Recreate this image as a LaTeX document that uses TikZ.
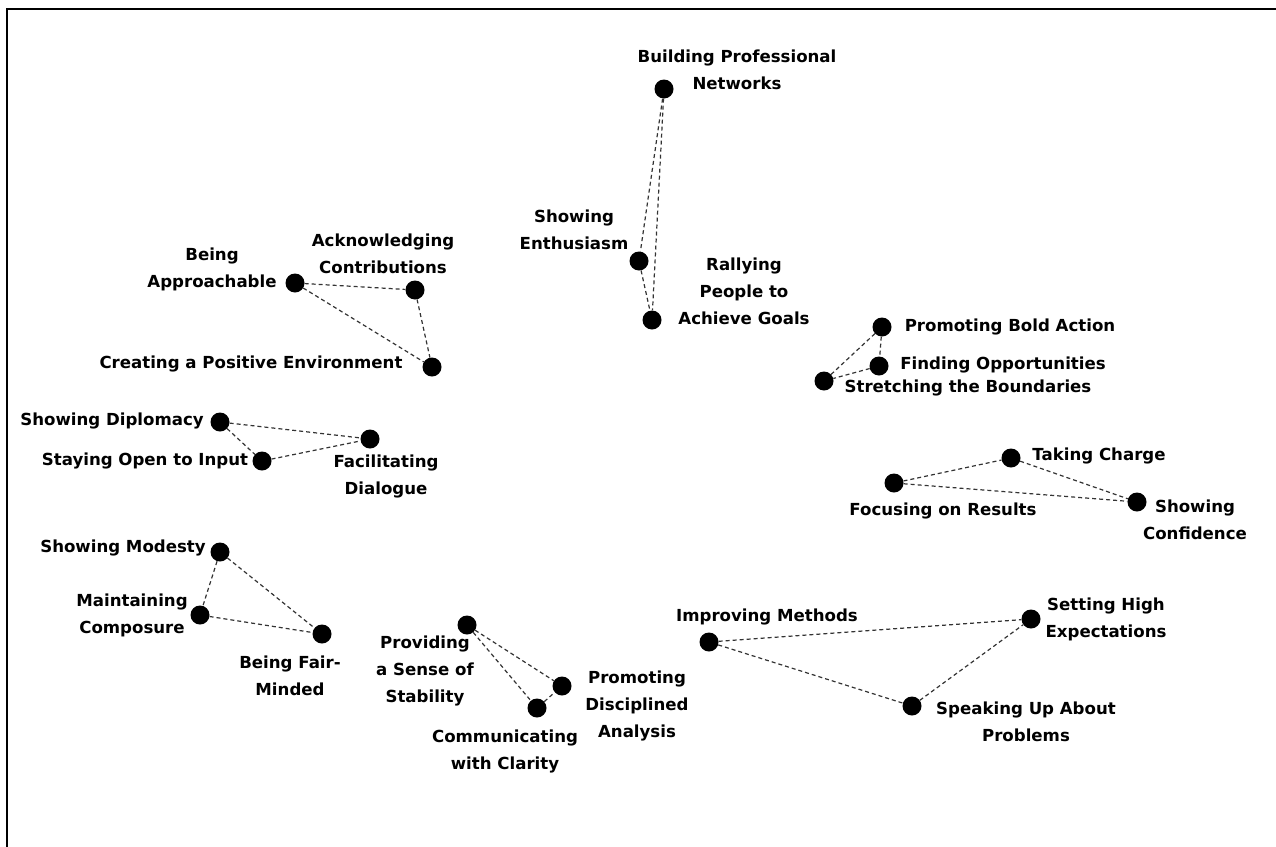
\documentclass[tikz,border=0pt]{standalone}
\usepackage{fontspec}
\setmainfont{DejaVu Sans}
\begin{document}
\begin{tikzpicture}[x=1pt,y=-1pt,
  dot/.style={circle,fill=black,inner sep=0pt,minimum size=19pt},
  lbl/.style={inner sep=0pt,align=center,font=\bfseries\fontsize{16.6}{27}\selectfont},
  link/.style={draw=black!80,line width=1.2pt,dash pattern=on 4pt off 3pt}]
\useasboundingbox (0,0) rectangle (1276,846);
\draw[line width=2.2pt] (7,850) -- (7,9) -- (1280,9);

% group 1
\node[dot] (bpn) at (664,89) {};
\node[dot] (se) at (639,261) {};
\node[dot] (rp) at (652,320) {};
\node[lbl] (bpnL) at (737,70) {Building Professional\\Networks};
\node[lbl] (seL) at (574,230) {Showing\\Enthusiasm};
\node[lbl] (rpL) at (744,291) {Rallying\\People to\\Achieve Goals};
\draw[link] (bpn) -- (se);
\draw[link] (bpn) -- (rp);
\draw[link] (se) -- (rp);

% group 2
\node[dot] (ba) at (295,283) {};
\node[dot] (ac) at (415,290) {};
\node[dot] (cpe) at (432,367) {};
\node[lbl] (baL) at (212,269) {Being\\Approachable};
\node[lbl] (acL) at (383,254) {Acknowledging\\Contributions};
\node[lbl] (cpeL) at (251,364) {Creating a Positive Environment};
\draw[link] (ba) -- (ac);
\draw[link] (ba) -- (cpe);
\draw[link] (ac) -- (cpe);

% group 3
\node[dot] (sd) at (220,422) {};
\node[dot] (so) at (262,461) {};
\node[dot] (fd) at (370,439) {};
\node[lbl] (sdL) at (112,421) {Showing Diplomacy};
\node[lbl] (soL) at (145,461) {Staying Open to Input};
\node[lbl] (fdL) at (386,476) {Facilitating\\Dialogue};
\draw[link] (sd) -- (fd);
\draw[link] (sd) -- (so);
\draw[link] (so) -- (fd);

% group 4
\node[dot] (sm) at (220,552) {};
\node[dot] (mc) at (200,615) {};
\node[dot] (bfm) at (322,634) {};
\node[lbl] (smL) at (123,548) {Showing Modesty};
\node[lbl] (mcL) at (132,615) {Maintaining\\Composure};
\node[lbl] (bfmL) at (290,676) {Being Fair-\\Minded};
\draw[link] (sm) -- (mc);
\draw[link] (sm) -- (bfm);
\draw[link] (mc) -- (bfm);

% group 5
\node[dot] (pss) at (467,625) {};
\node[dot] (pda) at (562,686) {};
\node[dot] (cc) at (537,708) {};
\node[lbl] (pssL) at (425,671) {Providing\\a Sense of\\Stability};
\node[lbl] (pdaL) at (637,706) {Promoting\\Disciplined\\Analysis};
\node[lbl] (ccL) at (505,751) {Communicating\\with Clarity};
\draw[link] (pss) -- (pda);
\draw[link] (pss) -- (cc);
\draw[link] (cc) -- (pda);

% group 6
\node[dot] (im) at (709,642) {};
\node[dot] (she) at (1031,619) {};
\node[dot] (suap) at (912,706) {};
\node[lbl] (imL) at (767,617) {Improving Methods};
\node[lbl] (sheL) at (1106,619) {Setting High\\Expectations};
\node[lbl] (suapL) at (1026,722) {Speaking Up About\\Problems};
\draw[link] (im) -- (she);
\draw[link] (im) -- (suap);
\draw[link] (suap) -- (she);

% group 7
\node[dot] (pba) at (882,327) {};
\node[dot] (fo) at (879,366) {};
\node[dot] (stb) at (824,381) {};
\node[lbl] (pbaL) at (1010,327) {Promoting Bold Action};
\node[lbl] (foL) at (1003,365) {Finding Opportunities};
\node[lbl] (stbL) at (968,388) {Stretching the Boundaries};
\draw[link] (pba) -- (stb);
\draw[link] (pba) -- (fo);
\draw[link] (fo) -- (stb);

% group 8
\node[dot] (tc) at (1011,458) {};
\node[dot] (fr) at (894,483) {};
\node[dot] (sc) at (1137,502) {};
\node[lbl] (tcL) at (1099,456) {Taking Charge};
\node[lbl] (frL) at (943,511) {Focusing on Results};
\node[lbl] (scL) at (1195,520) {Showing\\Confidence};
\draw[link] (fr) -- (tc);
\draw[link] (fr) -- (sc);
\draw[link] (tc) -- (sc);
\end{tikzpicture}
\end{document}
